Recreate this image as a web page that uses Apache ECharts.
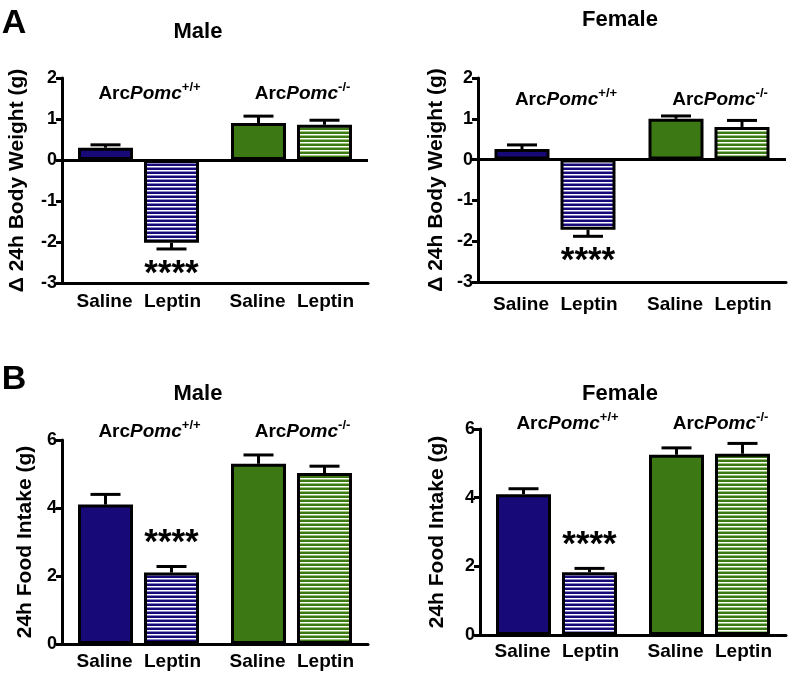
<!DOCTYPE html>
<html>
<head>
<meta charset="utf-8">
<script src="https://cdn.jsdelivr.net/npm/echarts@6/dist/echarts.min.js"></script>
<style>
html,body{margin:0;padding:0;background:#fff;}
#chart{width:788px;height:676px;}
</style>
</head>
<body>
<div id="chart"></div>
<script>
// ---------- data ----------
const treatments = ['Saline', 'Leptin'];
const genotypes = ['ArcPomc+/+', 'ArcPomc-/-'];
const weightTicks = [-3, -2, -1, 0, 1, 2];
const foodTicks = [0, 2, 4, 6];

// [WT, KO] for each treatment
const weightMaleSaline = [0.30, 0.90];
const weightMaleSalineErr = [0.07, 0.17];
const weightMaleLeptin = [-2.02, 0.86];
const weightMaleLeptinErr = [0.15, 0.11];

const weightFemaleSaline = [0.26, 1.00];
const weightFemaleSalineErr = [0.10, 0.07];
const weightFemaleLeptin = [-1.72, 0.80];
const weightFemaleLeptinErr = [0.16, 0.16];

const foodMaleSaline = [4.10, 5.30];
const foodMaleSalineErr = [0.30, 0.26];
const foodMaleLeptin = [2.10, 5.03];
const foodMaleLeptinErr = [0.18, 0.20];

const foodFemaleSaline = [4.10, 5.25];
const foodFemaleSalineErr = [0.16, 0.20];
const foodFemaleLeptin = [1.83, 5.28];
const foodFemaleLeptinErr = [0.11, 0.30];

const leptinSignificance = ['****', ''];

// ---------- styles ----------
const FONT = '"Liberation Sans", Arial, Helvetica, sans-serif';
const NAVY = '#170a78';
const GREEN = '#3c7814';
const BAR_W = 55;
const GAP_PCT = 20;
const SLOT_OFF = BAR_W / 2 + BAR_W * GAP_PCT / 200;

function stripe(base, light) {
  const c = document.createElement('canvas');
  c.width = 4; c.height = 4;
  const g = c.getContext('2d');
  g.fillStyle = base; g.fillRect(0, 0, 4, 4);
  g.fillStyle = '#ffffff'; g.fillRect(0, 2, 4, 1);
  g.fillStyle = light; g.fillRect(0, 3, 4, 1);
  return { image: c, repeat: 'repeat' };
}
const NAVY_STRIPE = stripe(NAVY, '#8a86c8');
const GREEN_STRIPE = stripe(GREEN, '#9cc47e');

const panels = [
  { grid: { left: 62, right: 420, top: 78, bottom: 393 }, ticks: weightTicks, yName: 'Δ 24h Body Weight (g)', nameGap: 34,
    saline: weightMaleSaline, salineErr: weightMaleSalineErr, leptin: weightMaleLeptin, leptinErr: weightMaleLeptinErr,
    xMargin: 9, topMargin: -25, zero: true },
  { grid: { left: 478, right: 2, top: 78, bottom: 394 }, ticks: weightTicks, yName: 'Δ 24h Body Weight (g)', nameGap: 31,
    saline: weightFemaleSaline, salineErr: weightFemaleSalineErr, leptin: weightFemaleLeptin, leptinErr: weightFemaleLeptinErr,
    xMargin: 13, topMargin: -31, zero: true },
  { grid: { left: 62, right: 420, top: 440, bottom: 32 }, ticks: foodTicks, yName: '24h Food Intake (g)', nameGap: 26,
    saline: foodMaleSaline, salineErr: foodMaleSalineErr, leptin: foodMaleLeptin, leptinErr: foodMaleLeptinErr,
    xMargin: 8, topMargin: -1, zero: false },
  { grid: { left: 480, right: 2, top: 429, bottom: 41 }, ticks: foodTicks, yName: '24h Food Intake (g)', nameGap: 32,
    saline: foodFemaleSaline, salineErr: foodFemaleSalineErr, leptin: foodFemaleLeptin, leptinErr: foodFemaleLeptinErr,
    xMargin: 7, topMargin: -4, zero: false }
];

const grids = [], xAxes = [], yAxes = [], series = [];

panels.forEach((p, i) => {
  grids.push(p.grid);
  xAxes.push({
    type: 'category', gridIndex: i, data: genotypes, position: 'bottom',
    axisLine: { onZero: false, lineStyle: { color: '#000', width: 3 } },
    axisTick: { show: false },
    axisLabel: {
      margin: p.xMargin,
      formatter: () => treatments.map(t => '{t|' + t + '}').join(''),
      rich: { t: { width: 68, align: 'center', fontSize: 19, fontWeight: 'bold', fontFamily: FONT, color: '#000' } }
    }
  });
  xAxes.push({
    type: 'category', gridIndex: i, data: genotypes, position: 'top',
    axisLine: { show: false }, axisTick: { show: false },
    axisLabel: {
      margin: p.topMargin,
      formatter: (v) => {
        const sup = v.slice(7);
        return '{n|Arc}{i|Pomc}{s|' + sup + '}';
      },
      rich: {
        n: { fontSize: 19, fontWeight: 'bold', fontFamily: FONT, color: '#000', padding: [0, 0, 0, 22], lineHeight: 22, verticalAlign: 'bottom' },
        i: { fontSize: 19, fontWeight: 'bold', fontStyle: 'italic', fontFamily: FONT, color: '#000', lineHeight: 22, verticalAlign: 'bottom' },
        s: { fontSize: 13, fontWeight: 'bold', fontFamily: FONT, color: '#000', lineHeight: 22, verticalAlign: 'top' }
      }
    }
  });
  yAxes.push({
    type: 'value', gridIndex: i,
    min: p.ticks[0], max: p.ticks[p.ticks.length - 1], interval: p.ticks[1] - p.ticks[0],
    name: p.yName, nameLocation: 'middle', nameRotate: 90, nameGap: p.nameGap,
    nameTextStyle: { fontSize: 21, fontWeight: 'bold', fontFamily: FONT, color: '#000' },
    axisLine: { show: true, lineStyle: { color: '#000', width: 3 } },
    axisTick: { show: true, length: 6, lineStyle: { color: '#000', width: 3 } },
    axisLabel: { margin: 5, fontSize: 18, fontWeight: 'bold', fontFamily: FONT, color: '#000' },
    splitLine: { show: false }
  });

  const common = {
    type: 'bar', xAxisIndex: 2 * i, yAxisIndex: i, barWidth: BAR_W, barGap: GAP_PCT + '%',
    itemStyle: { borderColor: '#000', borderWidth: 3 }, silent: true, animation: false
  };
  series.push(Object.assign({}, common, {
    name: 'Saline',
    data: p.saline.map((v, k) => ({ value: v, itemStyle: { color: k === 0 ? NAVY : GREEN } })),
    markLine: p.zero ? {
      silent: true, symbol: 'none', animation: false, label: { show: false },
      lineStyle: { color: '#000', width: 3, type: 'solid' },
      data: [{ yAxis: 0 }]
    } : undefined
  }));
  series.push(Object.assign({}, common, {
    name: 'Leptin',
    data: p.leptin.map((v, k) => ({ value: v, itemStyle: { color: k === 0 ? NAVY_STRIPE : GREEN_STRIPE } }))
  }));

  const errData = [];
  p.saline.forEach((v, k) => errData.push([k, v, p.salineErr[k], 0]));
  p.leptin.forEach((v, k) => errData.push([k, v, p.leptinErr[k], 1]));
  series.push({
    type: 'custom', xAxisIndex: 2 * i, yAxisIndex: i, data: errData, z: 5, clip: false, silent: true, animation: false,
    renderItem: (params, api) => {
      const cat = api.value(0), val = api.value(1), err = api.value(2), slot = api.value(3);
      const sign = val < 0 ? -1 : 1;
      const b = api.coord([cat, val]);
      const t = api.coord([cat, val + sign * err]);
      const x = b[0] + (slot === 0 ? -SLOT_OFF : SLOT_OFF);
      const st = { stroke: '#000', lineWidth: 3 };
      const children = [
        { type: 'line', shape: { x1: x, y1: b[1], x2: x, y2: t[1] }, style: st },
        { type: 'line', shape: { x1: x - 15, y1: t[1], x2: x + 15, y2: t[1] }, style: st }
      ];
      const sig = slot === 1 ? leptinSignificance[cat] : '';
      if (sig) {
        children.push({
          type: 'text', x: x, y: t[1] + (sign < 0 ? 8 : -6),
          style: { text: sig, font: 'bold 35px ' + FONT, fill: '#000', align: 'center', verticalAlign: sign < 0 ? 'top' : 'bottom' }
        });
      }
      return { type: 'group', children: children };
    }
  });
});

function label(text, x, y, size) {
  return { type: 'text', x: x, y: y, silent: true,
    style: { text: text, font: 'bold ' + size + 'px ' + FONT, fill: '#000', align: 'center', verticalAlign: 'middle' } };
}

const chart = echarts.init(document.getElementById('chart'), null, { renderer: 'canvas' });
chart.setOption({
  animation: false,
  backgroundColor: '#fff',
  grid: grids,
  xAxis: xAxes,
  yAxis: yAxes,
  series: series,
  graphic: [
    label('A', 14, 24, 34),
    label('B', 14, 380, 34),
    label('Male', 198, 32, 22),
    label('Female', 620, 20, 22),
    label('Male', 198, 394, 22),
    label('Female', 620, 394, 22)
  ]
});
</script>
</body>
</html>
